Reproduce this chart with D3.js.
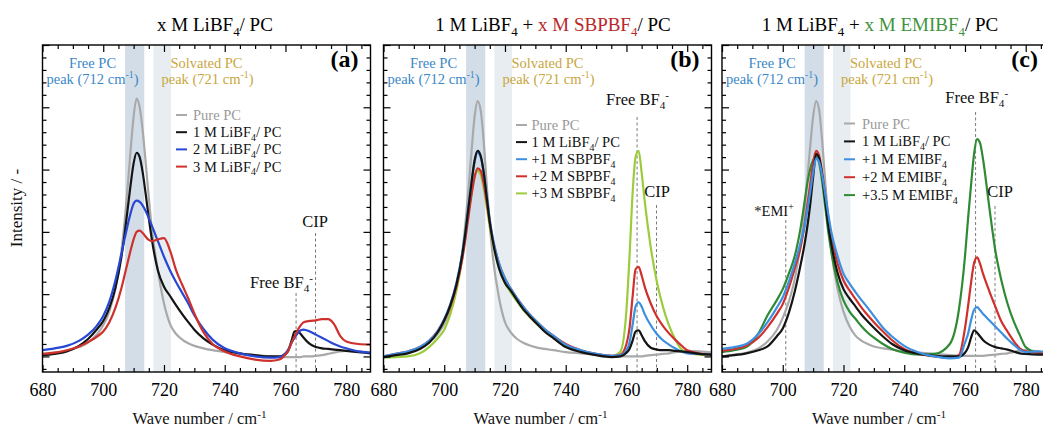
<!DOCTYPE html>
<html>
<head>
<meta charset="utf-8">
<script src="https://cdn.jsdelivr.net/npm/d3@7"></script>
<style>
  body { margin: 0; background: #fff; }
  svg { display: block; }
  text { font-family: "Liberation Serif", "Times New Roman", serif; }
</style>
</head>
<body>
<svg id="chart" width="1043" height="430"></svg>
<script>
// Raman shift grid (cm-1) shared by every spectrum
const waveNumbers = [680,684,688,692,695,698,700,702,704,706,
                     707,708,709,710,711,712,713,714,715,716,
                     718,720,722,724,726,728,730,733,736,740,
                     745,750,755,758,760,761,762,763,764,765,
                     766,768,770,772,774,776,778,780,784,788];

// (a) x M LiBF4 / PC
const pureA = [0.04,0.06,0.09,0.15,0.22,0.36,0.50,0.72,1.08,1.70,
               2.15,2.70,3.30,3.85,4.14,4.00,3.62,3.10,2.55,2.05,
               1.38,0.85,0.52,0.36,0.27,0.21,0.17,0.13,0.10,0.07,
               0.04,0.02,0.00,-0.01,-0.01,-0.01,-0.01,-0.01,-0.01,-0.01,
               0.00,0.00,0.01,0.02,0.04,0.06,0.08,0.09,0.08,0.06];
const li1A = [0.02,0.04,0.08,0.17,0.28,0.44,0.57,0.78,1.10,1.60,
              1.95,2.35,2.75,3.10,3.27,3.20,2.95,2.60,2.22,1.88,
              1.38,1.12,0.97,0.82,0.68,0.55,0.43,0.29,0.19,0.10,
              0.05,0.02,0.00,0.00,0.04,0.10,0.25,0.40,0.41,0.36,
              0.30,0.20,0.15,0.13,0.12,0.11,0.10,0.09,0.07,0.05];
const li2A = [0.10,0.13,0.17,0.25,0.35,0.50,0.65,0.88,1.22,1.65,
              1.88,2.10,2.30,2.45,2.50,2.48,2.42,2.33,2.22,2.10,
              1.85,1.60,1.38,1.19,1.02,0.85,0.66,0.44,0.27,0.13,
              0.05,0.00,-0.02,-0.01,0.05,0.12,0.22,0.30,0.37,0.42,
              0.43,0.40,0.35,0.30,0.25,0.20,0.16,0.13,0.08,0.06];
const li3A = [0.04,0.06,0.10,0.16,0.23,0.32,0.40,0.55,0.78,1.10,
              1.30,1.50,1.70,1.88,2.00,2.02,1.98,1.92,1.87,1.85,
              1.88,1.90,1.70,1.38,1.15,0.93,0.69,0.39,0.20,0.08,
              0.00,-0.05,-0.07,-0.05,0.03,0.10,0.22,0.32,0.42,0.50,
              0.55,0.57,0.58,0.60,0.60,0.52,0.33,0.24,0.20,0.19];

// (b) 1 M LiBF4 + x M SBPBF4 / PC
const pureB = [0.00,0.03,0.07,0.14,0.22,0.37,0.52,0.75,1.10,1.70,
               2.15,2.70,3.30,3.85,4.10,3.95,3.45,2.75,2.10,1.60,
               0.95,0.55,0.38,0.28,0.22,0.18,0.15,0.12,0.10,0.07,
               0.05,0.03,0.01,0.00,0.00,0.00,0.00,0.00,0.00,0.00,
               0.01,0.02,0.03,0.04,0.05,0.07,0.08,0.09,0.08,0.06];
const li1B = [-0.01,0.02,0.05,0.12,0.22,0.40,0.58,0.82,1.15,1.65,
              2.00,2.40,2.80,3.15,3.30,3.22,2.95,2.55,2.15,1.85,
              1.42,1.18,1.05,0.90,0.76,0.65,0.55,0.40,0.29,0.15,
              0.07,0.02,-0.01,0.00,0.06,0.12,0.25,0.40,0.42,0.34,
              0.25,0.14,0.11,0.10,0.10,0.09,0.08,0.07,0.04,0.03];
const sbp1 = [0.00,0.04,0.08,0.15,0.25,0.42,0.60,0.84,1.18,1.68,
              2.02,2.42,2.80,3.12,3.27,3.20,2.95,2.58,2.20,1.90,
              1.50,1.25,1.08,0.93,0.80,0.68,0.58,0.44,0.33,0.19,
              0.10,0.04,0.01,0.02,0.10,0.22,0.50,0.80,0.87,0.80,
              0.68,0.50,0.36,0.26,0.19,0.13,0.08,0.05,0.04,0.03];
const sbp2 = [0.00,0.04,0.08,0.15,0.25,0.42,0.58,0.80,1.12,1.58,
              1.90,2.25,2.60,2.88,3.02,2.98,2.78,2.47,2.15,1.88,
              1.50,1.25,1.08,0.93,0.80,0.68,0.58,0.44,0.33,0.20,
              0.10,0.04,0.01,0.03,0.20,0.45,0.95,1.40,1.44,1.30,
              1.12,0.85,0.64,0.49,0.37,0.27,0.18,0.10,0.05,0.02];
const sbp3 = [-0.02,-0.01,0.00,0.05,0.15,0.30,0.43,0.68,1.05,1.60,
              1.92,2.30,2.62,2.88,2.98,2.92,2.70,2.40,2.08,1.82,
              1.42,1.18,1.02,0.88,0.75,0.64,0.54,0.41,0.30,0.18,
              0.09,0.03,0.00,0.08,0.75,1.60,2.60,3.20,3.30,2.95,
              2.50,1.75,1.20,0.80,0.50,0.28,0.12,0.06,0.03,0.02];

// (c) 1 M LiBF4 + x M EMIBF4 / PC
const pureC = [0.00,0.03,0.06,0.13,0.24,0.42,0.62,0.88,1.25,1.85,
               2.25,2.80,3.35,3.85,4.10,3.95,3.45,2.80,2.20,1.70,
               1.10,0.72,0.48,0.33,0.25,0.20,0.16,0.13,0.11,0.08,
               0.06,0.04,0.02,0.01,0.01,0.01,0.01,0.01,0.01,0.01,
               0.01,0.02,0.03,0.04,0.05,0.07,0.09,0.10,0.08,0.06];
const li1C = [0.00,0.02,0.05,0.10,0.16,0.32,0.45,0.70,1.05,1.50,
              1.75,2.05,2.42,2.88,3.25,3.18,2.90,2.50,2.10,1.80,
              1.35,1.08,0.93,0.80,0.67,0.56,0.46,0.32,0.20,0.10,
              0.04,0.01,0.00,0.00,0.06,0.14,0.30,0.42,0.38,0.32,
              0.26,0.19,0.15,0.13,0.11,0.08,0.05,0.04,0.03,0.03];
const emi1 = [0.12,0.15,0.20,0.36,0.55,0.78,0.95,1.20,1.50,1.85,
              2.05,2.32,2.62,2.95,3.18,3.12,2.90,2.60,2.28,2.00,
              1.62,1.33,1.17,1.03,0.90,0.78,0.65,0.46,0.32,0.17,
              0.06,0.00,-0.03,-0.02,0.22,0.36,0.58,0.75,0.79,0.74,
              0.68,0.58,0.48,0.38,0.28,0.19,0.11,0.07,0.08,0.06];
const emi2 = [0.09,0.12,0.17,0.30,0.47,0.68,0.84,1.10,1.42,1.78,
              2.05,2.40,2.75,3.10,3.30,3.22,2.95,2.58,2.22,1.93,
              1.50,1.22,1.06,0.92,0.78,0.66,0.55,0.40,0.26,0.12,
              0.04,0.00,-0.02,0.02,0.45,0.80,1.18,1.50,1.59,1.48,
              1.32,1.05,0.80,0.56,0.40,0.25,0.13,0.08,0.06,0.05];
const emi3 = [0.07,0.10,0.15,0.37,0.66,0.90,1.08,1.33,1.62,2.10,
              2.42,2.75,3.00,3.15,3.20,3.10,2.80,2.40,2.00,1.68,
              1.20,0.90,0.72,0.60,0.48,0.38,0.30,0.20,0.12,0.06,
              0.03,0.04,0.20,0.75,1.60,2.20,2.75,3.25,3.49,3.42,
              3.15,2.40,1.70,1.22,0.85,0.57,0.35,0.15,0.06,0.05];

// Legend labels (_{..} subscript, ^{..} superscript)
const legendA = ['Pure PC', '1 M LiBF_{4}/ PC', '2 M LiBF_{4}/ PC', '3 M LiBF_{4}/ PC'];
const legendB = ['Pure PC', '1 M LiBF_{4}/ PC', '+1 M SBPBF_{4}', '+2 M SBPBF_{4}', '+3 M SBPBF_{4}'];
const legendC = ['Pure PC', '1 M LiBF_{4}/ PC', '+1 M EMIBF_{4}', '+2 M EMIBF_{4}', '+3.5 M EMIBF_{4}'];

// Axis ticks
const xMajorTicks = [680, 700, 720, 740, 760, 780];
const xMinorTicks = [685, 690, 695, 705, 710, 715, 725, 730, 735, 745, 750, 755, 765, 770, 775, 785];
const yMajorTicks = [0, 1, 2, 3, 4, 5];
const yMinorTicks = [-0.2, 0.2, 0.4, 0.6, 0.8, 1.2, 1.4, 1.6, 1.8, 2.2, 2.4, 2.6, 2.8,
                     3.2, 3.4, 3.6, 3.8, 4.2, 4.4, 4.6, 4.8];

// Reference bands and marker positions (cm-1)
const freePCBand = [707.2, 713.5];
const solvPCBand = [716.5, 722.3];
const freeBFpos = 763.5;
const cipPos = 769.9;
const emiPos = 701;

const COL = {
  gray: '#a9a9a9', black: '#141414', blueA: '#2748d4', blue: '#3d8fe0',
  red: '#d0302b', lime: '#9dcb3e', green: '#2e8b34',
  freePC: '#3b87c6', solvPC: '#c9a640', bandDark: '#d3dde8', bandLight: '#e8edf2'
};

const SERIF = '"Liberation Serif", "Times New Roman", serif';
const plotTop = 45, plotW = 328, plotH = 327;
const x = d3.scaleLinear().domain([680, 788]).range([0, plotW]);
const y = d3.scaleLinear().domain([-0.25, 5]).range([plotH, 0]);

const panels = [
  {
    left: 42.5, tag: '(a)', titleX: 215,
    title: [['x M LiBF_{4}/ PC', '#000']],
    series: [
      { label: legendA[0], values: pureA, color: COL.gray },
      { label: legendA[1], values: li1A, color: COL.black },
      { label: legendA[2], values: li2A, color: COL.blueA },
      { label: legendA[3], values: li3A, color: COL.red }
    ],
    order: [0, 1, 2, 3],
    legend: { lineX: 133.5, textX: 150.5, y0: 70, dy: 17.2 },
    freeBF: { x: 239, y: 243 }, cip: { x: 272.5, y: 181.5 },
    dashes: [{ at: freeBFpos, from: 248 }, { at: cipPos, from: 188 }]
  },
  {
    left: 383.5, tag: '(b)', titleX: 553,
    title: [['1 M LiBF_{4} + ', '#000'], ['x M SBPBF_{4}', '#b8282a'], ['/ PC', '#000']],
    series: [
      { label: legendB[0], values: pureB, color: COL.gray },
      { label: legendB[1], values: li1B, color: COL.black },
      { label: legendB[2], values: sbp1, color: COL.blue },
      { label: legendB[3], values: sbp2, color: COL.red },
      { label: legendB[4], values: sbp3, color: COL.lime }
    ],
    order: [0, 4, 3, 2, 1],
    legend: { lineX: 132.5, textX: 148, y0: 80, dy: 17.1 },
    freeBF: { x: 254, y: 60 }, cip: { x: 273.5, y: 152 },
    dashes: [{ at: freeBFpos, from: 72 }, { at: cipPos, from: 160 }]
  },
  {
    left: 722, tag: '(c)', titleX: 880,
    title: [['1 M LiBF_{4} + ', '#000'], ['x M EMIBF_{4}', '#3f9440'], ['/ PC', '#000']],
    series: [
      { label: legendC[0], values: pureC, color: COL.gray },
      { label: legendC[1], values: li1C, color: COL.black },
      { label: legendC[2], values: emi1, color: COL.blue },
      { label: legendC[3], values: emi2, color: COL.red },
      { label: legendC[4], values: emi3, color: COL.green }
    ],
    order: [0, 4, 3, 1, 2],
    legend: { lineX: 122, textX: 140, y0: 78.5, dy: 17.9 },
    freeBF: { x: 254.7, y: 58 }, cip: { x: 278, y: 152 },
    emi: { x: 52, y: 171 },
    dashes: [{ at: freeBFpos, from: 67 }, { at: cipPos, from: 161 }, { at: emiPos, from: 175 }]
  }
];

const svg = d3.select('#chart');

function parseRich(str, fill) {
  const out = [];
  const re = /([_^])\{([^}]*)\}/g;
  let last = 0, m;
  while ((m = re.exec(str))) {
    if (m.index > last) out.push({ t: str.slice(last, m.index), k: '', fill });
    out.push({ t: m[2], k: m[1], fill });
    last = re.lastIndex;
  }
  if (last < str.length) out.push({ t: str.slice(last), k: '', fill });
  return out;
}

function drawRich(parent, segs, fs, attrs) {
  const t = parent.append('text').attr('font-size', fs)
    .attr('font-family', SERIF).attr('xml:space', 'preserve');
  Object.entries(attrs).forEach(([k, v]) => t.attr(k, v));
  let cur = 0;
  segs.forEach(s => {
    const target = s.k === '_' ? fs * 0.25 : s.k === '^' ? -fs * 0.38 : 0;
    const ts = t.append('tspan').attr('dy', (target - cur).toFixed(2)).text(s.t);
    if (s.k) ts.attr('font-size', (fs * 0.68).toFixed(1));
    if (s.fill) ts.attr('fill', s.fill);
    cur = target;
  });
  return t;
}

function tickAxis(g, axisFn, scale, values, size, transform, withLabels) {
  const ax = axisFn(scale).tickValues(values).tickSizeInner(-size).tickSizeOuter(0).tickPadding(11);
  if (!withLabels) ax.tickFormat(() => '');
  const sel = g.append('g').attr('transform', transform).call(ax);
  sel.attr('font-family', SERIF);
  sel.select('.domain').remove();
  sel.selectAll('line').attr('stroke', '#000').attr('stroke-width', 1.2);
  sel.selectAll('text')
    .attr('font-size', 18)
    .attr('font-family', SERIF)
    .attr('fill', '#000');
}

const line = d3.line()
  .x((d, i) => x(waveNumbers[i]))
  .y(d => y(d))
  .curve(d3.curveMonotoneX);

panels.forEach((p, pi) => {
  const g = svg.append('g').attr('transform', `translate(${p.left},${plotTop})`);

  const clipId = 'clip' + pi;
  g.append('clipPath').attr('id', clipId)
    .append('rect').attr('width', plotW).attr('height', plotH);

  // shaded peak windows
  g.append('rect')
    .attr('x', x(freePCBand[0])).attr('width', x(freePCBand[1]) - x(freePCBand[0]))
    .attr('y', 0).attr('height', plotH).attr('fill', COL.bandDark);
  g.append('rect')
    .attr('x', x(solvPCBand[0])).attr('width', x(solvPCBand[1]) - x(solvPCBand[0]))
    .attr('y', 0).attr('height', plotH).attr('fill', COL.bandLight);

  // dashed markers
  p.dashes.forEach(d => {
    g.append('line')
      .attr('x1', x(d.at)).attr('x2', x(d.at))
      .attr('y1', d.from).attr('y2', plotH)
      .attr('stroke', '#7a7a7a').attr('stroke-width', 1)
      .attr('stroke-dasharray', '3,2.5');
  });

  // spectra
  const curves = g.append('g').attr('clip-path', `url(#${clipId})`);
  p.order.forEach(k => {
    const s = p.series[k];
    curves.append('path')
      .attr('d', line(s.values))
      .attr('fill', 'none')
      .attr('stroke', s.color)
      .attr('stroke-width', 2.2)
      .attr('stroke-linejoin', 'round');
  });

  // ticks on all four sides, pointing inward
  tickAxis(g, d3.axisBottom, x, xMajorTicks, 7, `translate(0,${plotH})`, true);
  tickAxis(g, d3.axisBottom, x, xMinorTicks, 4, `translate(0,${plotH})`, false);
  tickAxis(g, d3.axisTop, x, xMajorTicks, 7, 'translate(0,0)', false);
  tickAxis(g, d3.axisTop, x, xMinorTicks, 4, 'translate(0,0)', false);
  tickAxis(g, d3.axisLeft, y, yMajorTicks, 7, 'translate(0,0)', false);
  tickAxis(g, d3.axisLeft, y, yMinorTicks, 4, 'translate(0,0)', false);
  tickAxis(g, d3.axisRight, y, yMajorTicks, 7, `translate(${plotW},0)`, false);
  tickAxis(g, d3.axisRight, y, yMinorTicks, 4, `translate(${plotW},0)`, false);

  g.append('rect').attr('width', plotW).attr('height', plotH)
    .attr('fill', 'none').attr('stroke', '#000').attr('stroke-width', 1.4);

  // band captions
  drawRich(g, parseRich('Free PC'), 14.5, { x: 50, y: 23, 'text-anchor': 'middle', fill: COL.freePC });
  drawRich(g, parseRich('peak (712 cm^{-1})'), 14.5, { x: 50, y: 39, 'text-anchor': 'middle', fill: COL.freePC });
  drawRich(g, parseRich('Solvated PC'), 14.5, { x: 164, y: 23, 'text-anchor': 'middle', fill: COL.solvPC });
  drawRich(g, parseRich('peak (721 cm^{-1})'), 14.5, { x: 165, y: 39, 'text-anchor': 'middle', fill: COL.solvPC });

  // panel tag
  g.append('text').attr('x', plotW - 12).attr('y', 21.5)
    .attr('text-anchor', 'end').attr('font-size', 24).attr('font-weight', 'bold')
    .attr('font-family', SERIF)
    .text(p.tag);

  // legend
  p.series.forEach((s, i) => {
    const cy = p.legend.y0 + i * p.legend.dy;
    g.append('line')
      .attr('x1', p.legend.lineX).attr('x2', p.legend.lineX + 11)
      .attr('y1', cy).attr('y2', cy)
      .attr('stroke', s.color).attr('stroke-width', 2);
    drawRich(g, parseRich(s.label), 14.5, {
      x: p.legend.textX, y: cy + 5, fill: i === 0 ? '#9a9a9a' : '#111'
    });
  });

  // peak annotations
  drawRich(g, parseRich('Free BF_{4}^{-}'), 16.5, { x: p.freeBF.x, y: p.freeBF.y, 'text-anchor': 'middle', fill: '#111' });
  drawRich(g, parseRich('CIP'), 16.5, { x: p.cip.x, y: p.cip.y, 'text-anchor': 'middle', fill: '#111' });
  if (p.emi) {
    drawRich(g, parseRich('*EMI^{+}'), 14.5, { x: p.emi.x, y: p.emi.y, 'text-anchor': 'middle', fill: '#111' });
  }

  // x-axis title
  drawRich(g, parseRich('Wave number / cm^{-1}'), 16.5, { x: 157, y: 379, 'text-anchor': 'middle', fill: '#111' });

  // panel title
  const segs = [];
  p.title.forEach(([txt, col]) => segs.push(...parseRich(txt, col)));
  drawRich(svg, segs, 19, { x: p.titleX, y: 31, 'text-anchor': 'middle' });
});

// shared y-axis title
svg.append('text')
  .attr('transform', 'translate(22,208) rotate(-90)')
  .attr('text-anchor', 'middle')
  .attr('font-size', 17)
  .attr('font-family', SERIF)
  .attr('fill', '#111')
  .text('Intensity / -');
</script>
</body>
</html>
